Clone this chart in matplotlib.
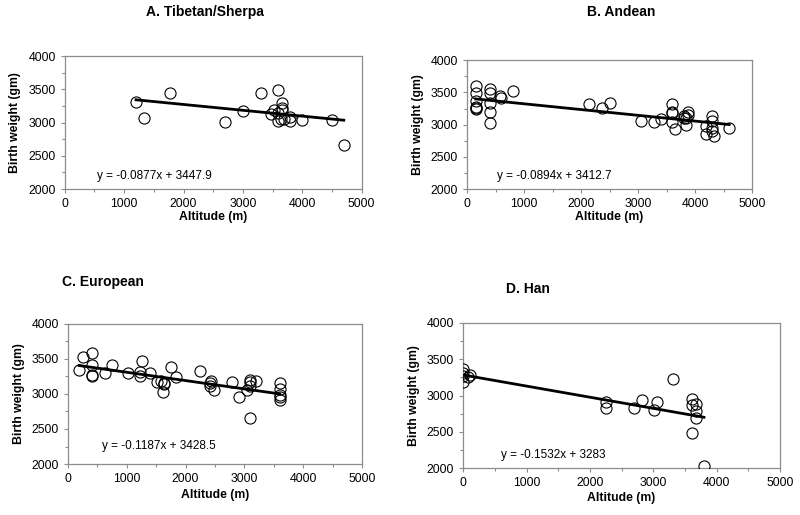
import matplotlib
matplotlib.use("Agg")
import matplotlib.pyplot as plt
import numpy as np
from matplotlib.ticker import MultipleLocator

plt.rcParams["font.family"] = ["Liberation Sans", "DejaVu Sans"]

# A. Tibetan/Sherpa
a_alt = [1200, 1330, 1770, 2700, 3000, 3300, 3600, 3480, 3520, 3600, 3600, 3660, 3660,
         3660, 3690, 3640, 3790, 3800, 4000, 4500, 4700]
a_bw = [3305, 3065, 3450, 3015, 3180, 3445, 3485, 3130, 3190, 3025, 3140, 3300, 3215,
        3190, 3060, 3050, 3080, 3030, 3040, 3045, 2655]
a_fit = (-0.0877, 3447.9)

# B. Andean
b_alt = [150, 150, 150, 150, 150, 150, 400, 400, 400, 400, 400, 570, 600, 800,
         2130, 2360, 2500, 3060, 3280, 3400, 3600, 3600, 3600, 3600, 3640, 3800,
         3800, 3840, 3850, 3870, 3870, 4190, 4190, 4300, 4300, 4300, 4300, 4340, 4600]
b_bw = [3600, 3485, 3370, 3270, 3255, 3245, 3560, 3495, 3340, 3190, 3030, 3450, 3410, 3525,
        3325, 3260, 3335, 3060, 3040, 3090, 3320, 3200, 3185, 3045, 2930, 3140,
        3100, 3100, 3000, 3190, 3155, 2985, 2860, 3135, 3060, 2955, 2900, 2830, 2945]
b_fit = (-0.0894, 3412.7)

# C. European
c_alt = [190, 250, 400, 400, 400, 400, 630, 750, 1020, 1220, 1220, 1250, 1390, 1510,
         1590, 1610, 1630, 1640, 1750, 1830, 2250, 2410, 2440, 2410, 2490, 2790, 2910,
         3040, 3090, 3090, 3090, 3090, 3200, 3600, 3600, 3600, 3600, 3600]
c_bw = [3345, 3525, 3585, 3420, 3265, 3250, 3300, 3410, 3295, 3310, 3260, 3470, 3295, 3170,
        3190, 3035, 3160, 3145, 3380, 3240, 3330, 3160, 3185, 3115, 3050, 3170, 2960,
        3055, 3200, 3175, 3110, 2655, 3180, 3155, 3065, 2990, 2950, 2915]
c_fit = (-0.1187, 3428.5)

# D. Han
d_alt = [0, 0, 0, 0, 80, 115, 2260, 2260, 2690, 2820, 3010, 3060, 3310, 3610, 3610,
         3670, 3670, 3670, 3610, 3800]
d_bw = [3370, 3310, 3265, 3180, 3255, 3285, 2910, 2825, 2825, 2935, 2795, 2910, 3225, 2955, 2870,
        2890, 2785, 2690, 2490, 2030]
d_fit = (-0.1532, 3283)

panels = [
    ("A. Tibetan/Sherpa", a_alt, a_bw, a_fit, [0.081, 0.633, 0.371, 0.258], (205, 12, "center"), (0.11, 0.1), 1),
    ("B. Andean", b_alt, b_bw, b_fit, [0.584, 0.633, 0.356, 0.250], (621, 12, "center"), (0.105, 0.1), 1),
    ("C. European", c_alt, c_bw, c_fit, [0.085, 0.099, 0.3675, 0.272], (62, 282, "left"), (0.115, 0.13), 3),
    ("D. Han", d_alt, d_bw, d_fit, [0.579, 0.091, 0.396, 0.282], (528, 289, "center"), (0.12, 0.09), 2),
]

fig = plt.figure(figsize=(8, 5.15), dpi=100)
grey = "#8c8c8c"

for title, alt, bw, fit, pos, tpos, epos, xpad in panels:
    ax = fig.add_axes(pos)
    ax.plot(alt, bw, "o", ms=8, mfc="none", mec="black", mew=0.8, zorder=3)
    xs = np.array([min(alt), max(alt)])
    ax.plot(xs, fit[0] * xs + fit[1], "k-", lw=2, zorder=2)
    ax.set_xlim(0, 5000)
    ax.set_ylim(2000, 4000)
    ax.xaxis.set_major_locator(MultipleLocator(1000))
    ax.xaxis.set_minor_locator(MultipleLocator(500))
    ax.yaxis.set_major_locator(MultipleLocator(500))
    ax.yaxis.set_minor_locator(MultipleLocator(250))
    ax.tick_params(which="both", direction="out", color=grey, labelsize=8.8, width=0.8)
    ax.tick_params(which="major", length=3)
    ax.tick_params(which="minor", length=2)
    for s in ax.spines.values():
        s.set_color(grey)
        s.set_linewidth(0.9)
    ax.set_xlabel("Altitude (m)", fontsize=8.8, fontweight="bold", labelpad=xpad)
    ax.set_ylabel("Birth weight (gm)", fontsize=8.8, fontweight="bold", labelpad=5)
    eq = "y = %s%gx + %g" % ("-" if fit[0] < 0 else "", abs(fit[0]), fit[1])
    ax.text(epos[0], epos[1], eq, transform=ax.transAxes, fontsize=8.5, va="center")
    fig.text(tpos[0] / 800, 1 - tpos[1] / 515, title, fontsize=10, fontweight="bold",
             ha=tpos[2], va="center")

fig.savefig("out.png", dpi=100)
